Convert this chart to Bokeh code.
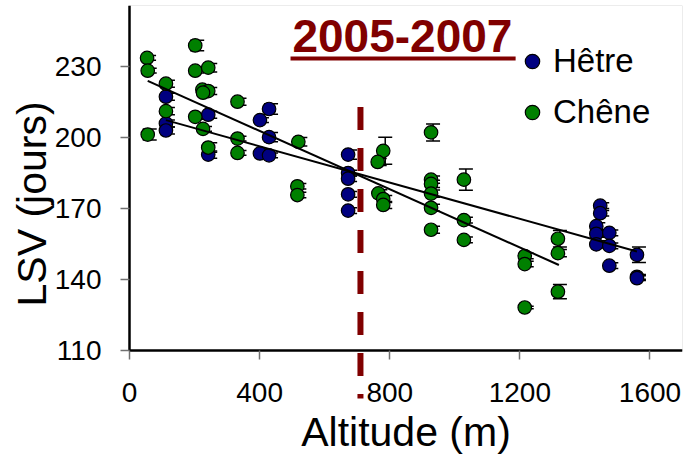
import math
from bokeh.plotting import figure
from bokeh.models import (FixedTicker, Label, BoxAnnotation, Legend,
                          LegendItem, ColumnDataSource, Title)
from bokeh.embed import file_html
from bokeh.resources import INLINE

# ---------------- data ----------------
hetre_alt = [112, 112, 112, 242, 242, 429, 401, 429, 401, 429,
             672, 672, 672, 672, 672,
             1447, 1447, 1435, 1435, 1435, 1475, 1475, 1475, 1560, 1560, 1560]
hetre_lsv = [217.4, 206.1, 203.1, 209.8, 192.9, 212.2, 207.5, 200.3, 193.4, 192.6,
             192.9, 185.1, 182.7, 176.1, 169.2,
             171.3, 168.1, 162.6, 159.4, 154.9, 159.8, 154.3, 145.9, 150.5, 141.2, 140.6]
hetre_err = [1.5, 1.5, 1.5, 1.5, 1.5, 2.2, 1.0, 2.0, 1.0, 1.0,
             2.0, 1.2, 1.2, 1.2, 1.2,
             1.2, 1.2, 1.5, 1.5, 1.5, 1.2, 1.2, 1.2, 3.3, 1.0, 1.0]

chene_alt = [54, 56, 56, 112, 112, 202, 202, 242, 224, 242,
             226, 202, 226, 242, 332, 332, 332, 519, 516, 516,
             780, 763, 765, 780, 780, 927, 927, 927, 927, 927,
             927, 1028, 1028, 1028, 1215, 1215, 1215, 1317, 1317, 1317]
chene_lsv = [233.8, 228.4, 201.4, 222.9, 211.3, 239.1, 228.4, 229.7, 220.4, 219.8,
             219.1, 208.9, 203.8, 195.9, 215.3, 199.7, 193.6, 198.3, 179.5, 175.8,
             194.5, 189.8, 176.5, 174.1, 171.6, 202.3, 182.3, 180.5, 176.4, 170.4,
             161.1, 182.3, 165.2, 156.8, 150.0, 146.6, 128.2, 157.3, 151.2, 134.9]
chene_err = [1.0, 1.0, 2.3, 1.5, 1.5, 2.2, 1.0, 1.8, 1.5, 1.5,
             1.0, 1.0, 1.0, 2.0, 1.5, 1.0, 1.0, 1.8, 1.2, 1.2,
             5.7, 1.5, 1.5, 1.5, 1.5, 3.6, 1.5, 1.5, 1.5, 1.5,
             1.5, 4.5, 1.2, 1.2, 1.2, 1.2, 0.5, 3.5, 1.5, 3.0]

# regression lines (end points)
chene_fit_alt = [56, 1320]
chene_fit_lsv = [224.1, 146.2]
hetre_fit_alt = [112, 1560]
hetre_fit_lsv = [207.5, 151.9]

threshold_alt = 710
threshold_span = [213.1, 89.7]
x_ticks = [0, 400, 800, 1200, 1600]
y_ticks = [110, 140, 170, 200, 230]
title_text = "2005-2007"
series_names = ["Hêtre", "Chêne"]

# ---------------- styling ----------------
W, H = 683, 454
AXIS_X = 129                  # pixel position of the y axis (x = 0)
BL, BR, BT, BB = 54, 1, 5, 0
XAX, XMAX = 0, 1700           # visible x axis extent
YAX, YMAX = 110, 256          # visible y axis extent
YLO = 66                      # frame extends below the x axis
PX_X = (XMAX - XAX) / (W - BR - AXIS_X)     # data units per pixel
XLO = XAX - (AXIS_X - BL) * PX_X            # frame extends left of the y axis

FONT = "Liberation Sans"
BLUE = "#000080"
GREEN = "#008000"
DARKRED = "#800000"

p = figure(width=W, height=H, x_range=(XLO, XMAX), y_range=(YLO, YMAX),
           output_backend="svg", toolbar_location=None,
           min_border_left=BL, min_border_right=BR,
           min_border_top=BT, min_border_bottom=BB)
p.xgrid.visible = False
p.ygrid.visible = False
p.outline_line_color = None
p.background_fill_color = "white"
p.border_fill_color = "white"

# thin grey top/right border of the plotting box
p.add_layout(BoxAnnotation(left=XAX, bottom=YAX, fill_alpha=0, line_color="#808080",
                           line_width=1, level="underlay"))

p.xaxis.ticker = FixedTicker(ticks=x_ticks)
p.yaxis.ticker = FixedTicker(ticks=y_ticks)
p.xaxis.fixed_location = YAX
p.yaxis.fixed_location = XAX
p.xaxis.bounds = (XAX, XMAX)
p.yaxis.bounds = (YAX, YMAX)
for ax in (p.xaxis[0], p.yaxis[0]):
    ax.axis_line_color = "black"
    ax.axis_line_width = 2.5
    ax.major_tick_line_color = "#707070"
    ax.major_tick_line_width = 1.5
    ax.major_tick_in = 0
    ax.major_tick_out = 9
    ax.minor_tick_line_color = None
    ax.major_label_text_font = FONT
    ax.major_label_text_font_size = "28px"
    ax.major_label_text_color = "black"
p.xaxis.major_label_standoff = 23
p.yaxis.major_label_standoff = 19
p.xaxis.axis_label = "Altitude (m)"
p.xaxis.axis_label_text_font = FONT
p.xaxis.axis_label_text_font_size = "41px"
p.xaxis.axis_label_text_font_style = "normal"
p.xaxis.axis_label_text_color = "black"
p.xaxis.axis_label_standoff = 4

p.add_layout(Title(text="LSV (jours)", align="left", offset=148, standoff=0,
                   text_font=FONT, text_font_size="41px", text_font_style="normal",
                   text_color="black"), "left")

# error bars
def err_source(xs, ys, es):
    off = 2 * PX_X
    half = 7 * PX_X
    x0, x1, y0, y1 = [], [], [], []
    for x, y, e in zip(xs, ys, es):
        bx = x + off
        x0 += [bx, bx - half, bx - half]
        x1 += [bx, bx + half, bx + half]
        y0 += [y - e, y + e, y - e]
        y1 += [y + e, y + e, y - e]
    return ColumnDataSource(dict(x0=x0, x1=x1, y0=y0, y1=y1))

for xs, ys, es in ((hetre_alt, hetre_lsv, hetre_err), (chene_alt, chene_lsv, chene_err)):
    p.segment("x0", "y0", "x1", "y1", source=err_source(xs, ys, es),
              line_color="black", line_width=1.5)

r_h = p.scatter(hetre_alt, hetre_lsv, size=13.5, marker="circle",
                fill_color=BLUE, line_color="black", line_width=1.2)
r_c = p.scatter(chene_alt, chene_lsv, size=13.5, marker="circle",
                fill_color=GREEN, line_color="black", line_width=1.2)

p.line(chene_fit_alt, chene_fit_lsv, line_color="black", line_width=2)
p.line(hetre_fit_alt, hetre_fit_lsv, line_color="black", line_width=2)

# threshold dashed line (crosses the x axis)
p.segment(x0=[threshold_alt], y0=[threshold_span[0]], x1=[threshold_alt],
          y1=[threshold_span[1]], line_color=DARKRED, line_width=6,
          line_dash="23 18")

# title with underline
p.add_layout(Label(x=839, y=243.2, text=title_text, text_align="center",
                   text_baseline="alphabetic", text_font=FONT,
                   text_font_size="46px", text_font_style="bold", text_color=DARKRED))
p.add_layout(BoxAnnotation(left=495, right=1187, bottom=232.7, top=234.4,
                           fill_color=DARKRED, fill_alpha=1, line_alpha=0))

legend = Legend(items=[LegendItem(label=series_names[0], renderers=[r_h]),
                       LegendItem(label=series_names[1], renderers=[r_c])],
                location=(385 + AXIS_X - BL, 323), orientation="vertical",
                glyph_width=36, glyph_height=38, label_height=38,
                label_standoff=3, spacing=13, padding=0, margin=0,
                border_line_alpha=0, background_fill_alpha=0,
                label_text_font=FONT, label_text_font_size="33px",
                label_text_color="black")
p.add_layout(legend)

open("out.html", "w").write(file_html(p, INLINE))
